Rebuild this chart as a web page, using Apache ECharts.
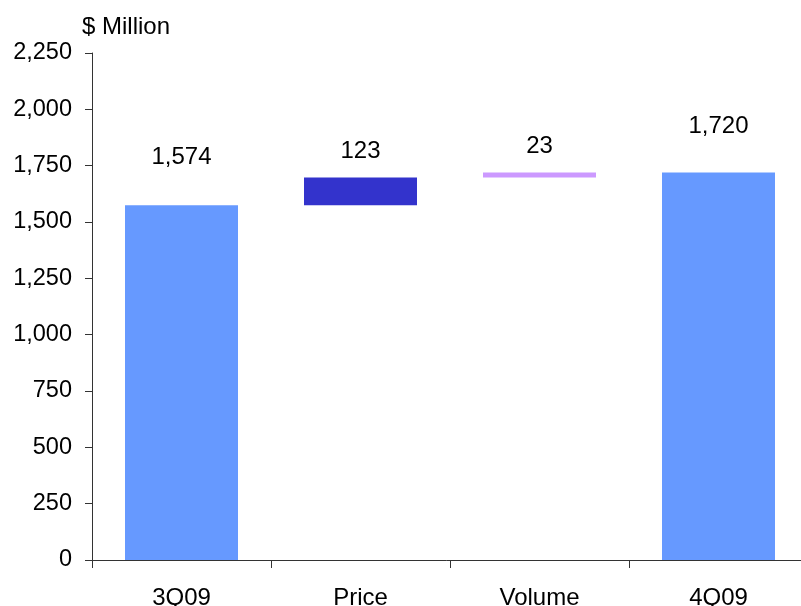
<!DOCTYPE html>
<html>
<head>
<meta charset="utf-8">
<script src="https://cdn.jsdelivr.net/npm/echarts@6/dist/echarts.min.js"></script>
<style>
html,body{margin:0;padding:0;background:#fff;}
#c{width:801px;height:606px;}
</style>
</head>
<body>
<div id="c"></div>
<script>
const categories = ['3Q09', 'Price', 'Volume', '4Q09'];
const values = [1574, 123, 23, 1720];
const isTotal = [true, false, false, true];
const barColors = ['#6699FF', '#3333CC', '#CC99FF', '#6699FF'];
const labelDistances = [36, 14, 14, 34];
const yTicks = { min: 0, max: 2250, interval: 250 };

// waterfall invisible base
const base = [];
let running = 0;
values.forEach((v, i) => {
  if (isTotal[i]) { base.push(0); running = v; }
  else { base.push(running); running += v; }
});

const fmt = v => v.toLocaleString('en-US');
const font = 'Liberation Sans, Arial, sans-serif';
const FS = 24;

const chart = echarts.init(document.getElementById('c'));
chart.setOption({
  animation: false,
  backgroundColor: '#fff',
  title: {
    text: '$ Million', left: 77, top: 10,
    textStyle: { fontFamily: font, fontSize: FS, fontWeight: 'normal', color: '#000' }
  },
  grid: { left: 92, top: 53, width: 716, height: 507, containLabel: false, outerBoundsMode: 'none' },
  xAxis: {
    type: 'category', data: categories,
    axisLine: { lineStyle: { color: '#333', width: 1 } },
    axisTick: { show: true, length: 8, alignWithLabel: false, lineStyle: { color: '#333' } },
    axisLabel: { fontFamily: font, fontSize: FS, color: '#000', margin: 26 }
  },
  yAxis: {
    type: 'value', min: yTicks.min, max: yTicks.max, interval: yTicks.interval,
    splitLine: { show: false },
    axisLine: { show: true, lineStyle: { color: '#333', width: 1 } },
    axisTick: { show: true, length: 7, lineStyle: { color: '#333' } },
    axisLabel: { fontFamily: font, fontSize: 23.5, color: '#000', margin: 20, formatter: v => fmt(v) }
  },
  series: [
    {
      type: 'bar', stack: 'w', barWidth: 113, silent: true,
      itemStyle: { color: 'transparent' },
      data: base
    },
    {
      type: 'bar', stack: 'w', barWidth: 113,
      data: values.map((v, i) => ({
        value: v,
        itemStyle: { color: barColors[i] },
        label: {
          show: true, position: 'top', distance: labelDistances[i],
          fontFamily: font, fontSize: FS, color: '#000',
          formatter: () => fmt(v)
        }
      }))
    }
  ]
});
</script>
</body>
</html>
